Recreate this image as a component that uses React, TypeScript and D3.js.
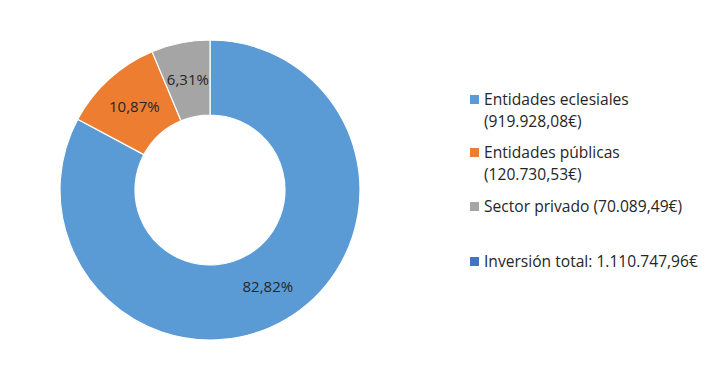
import React from "react";
import * as d3 from "d3";

const categories = ["Entidades eclesiales", "Entidades públicas", "Sector privado"];
const amounts = ["(919.928,08€)", "(120.730,53€)", "(70.089,49€)"];
const values = [82.82, 10.87, 6.31];
const labels = ["82,82%", "10,87%", "6,31%"];
const colors = ["#5B9BD5", "#ED7D31", "#A5A5A5"];
const totalLabel = "Inversión total: 1.110.747,96€";
const totalColor = "#4472C4";

export default function App() {
  const W = 714, H = 379;
  const cx = 210, cy = 190, R = 150, r = 75;
  const pie = d3.pie<number>().sort(null).value((d) => d);
  const arcs = pie(values);
  const arc = d3.arc<d3.PieArcDatum<number>>().innerRadius(r).outerRadius(R);
  const font = "'Open Sans', 'Liberation Sans', sans-serif";
  const legend = [
    { color: colors[0], lines: [categories[0], amounts[0]], y: 105 },
    { color: colors[1], lines: [categories[1], amounts[1]], y: 158 },
    { color: colors[2], lines: [categories[2] + " " + amounts[2]], y: 212 },
    { color: totalColor, lines: [totalLabel], y: 267 },
  ];
  return (
    <svg width={W} height={H} style={{ position: "absolute", left: 0, top: 0, background: "#fff" }}>
      <g transform={`translate(${cx},${cy})`}>
        {arcs.map((a, i) => (
          <path key={i} d={arc(a) || ""} fill={colors[i]} stroke="#fff" strokeWidth={1.2} />
        ))}
        {arcs.map((a, i) => {
          const [x, y] = arc.centroid(a);
          return (
            <text key={"l" + i} x={x} y={y} dy="0.35em" textAnchor="middle" fontFamily={font} fontSize={15} fill="#262626">
              {labels[i]}
            </text>
          );
        })}
      </g>
      {legend.map((l, i) => (
        <g key={"g" + i}>
          <rect x={470} y={l.y - 10} width={9} height={9} fill={l.color} />
          {l.lines.map((t, j) => (
            <text key={j} x={484} y={l.y + j * 22} fontFamily={font} fontSize={15.6} fill="#262626">
              {t}
            </text>
          ))}
        </g>
      ))}
    </svg>
  );
}
